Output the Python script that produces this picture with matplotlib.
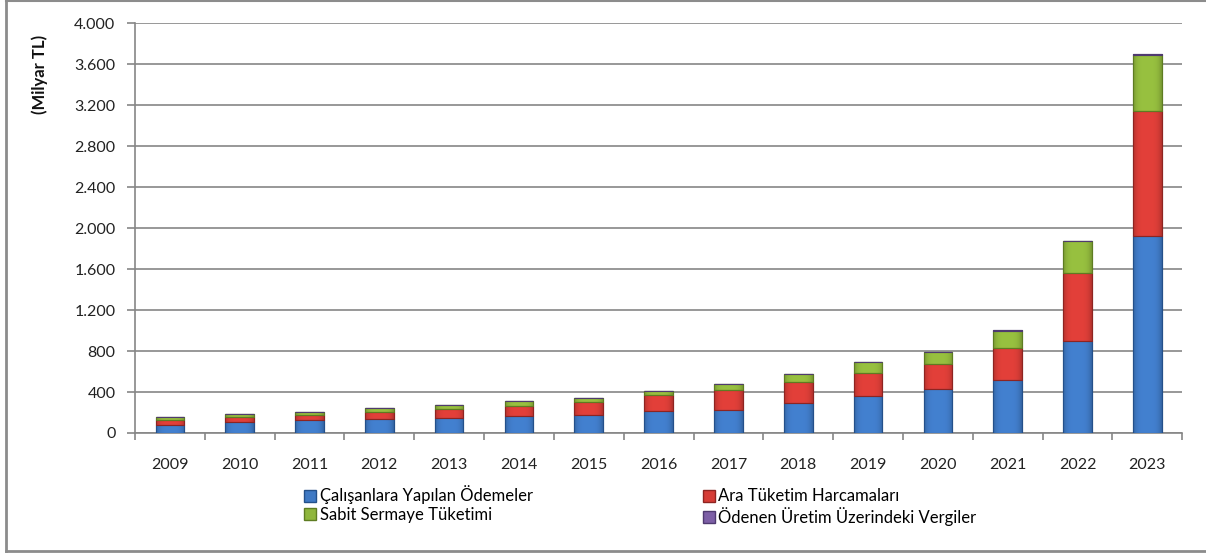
import numpy as np
import matplotlib.pyplot as plt
from matplotlib.lines import Line2D
from matplotlib.colors import to_rgb
from matplotlib.ticker import FuncFormatter

plt.rcParams['font.family'] = ['Lato', 'DejaVu Sans']

years = ['2009', '2010', '2011', '2012', '2013', '2014', '2015', '2016',
         '2017', '2018', '2019', '2020', '2021', '2022', '2023']
# Milyar TL
calisan = [82, 104, 124, 138, 148, 163, 180, 211, 228, 297, 363, 430, 517, 898, 1922]
ara_tuketim = [49, 53, 56, 68, 88, 99, 121, 156, 189, 198, 225, 240, 312, 663, 1222]
sabit_sermaye = [22, 30, 26, 36, 35, 46, 43, 42, 59, 83, 105, 116, 169, 312, 545]
vergiler = [1, 1, 1, 1, 1, 1, 1, 1, 1, 2, 2, 2, 3, 5, 10]

series = [("Çalışanlara Yapılan Ödemeler", calisan, "#3F79C4", "#24508A"),
          ("Ara Tüketim Harcamaları", ara_tuketim, "#D63C36", "#8E2421"),
          ("Sabit Sermaye Tüketimi", sabit_sermaye, "#8FB63C", "#5E7C22"),
          ("Ödenen Üretim Üzerindeki Vergiler", vergiler, "#7D5FA6", "#4F3A70")]


def shade(col):
    # darker at the sides, a bit lighter in the middle (Excel-like bar look)
    c = np.array(to_rgb(col))
    t = np.linspace(-1, 1, 40)
    f = 1.06 - 0.22 * t ** 4
    img = np.clip(c[None, :] * f[:, None], 0, 1)
    return img[None, :, :]


fig = plt.figure(figsize=(12.06, 5.53), dpi=100)
ax = fig.add_axes([0.1119, 0.217, 0.8684, 0.741])

x = np.arange(len(years))
bottom = np.zeros(len(years))
handles = []
for name, vals, col, edge in series:
    vals = np.array(vals, dtype=float)
    bars = ax.bar(x, vals, 0.41, bottom=bottom, color=col, edgecolor=edge,
                  linewidth=0.8, zorder=3)
    img = shade(col)
    for b in bars:
        x0, y0 = b.get_x(), b.get_y()
        im = ax.imshow(img, extent=[x0, x0 + b.get_width(), y0, y0 + b.get_height()],
                       aspect='auto', zorder=3.2, interpolation='bilinear')
        im.set_clip_path(b)
    ax.bar(x, vals, 0.41, bottom=bottom, color='none', edgecolor=edge,
           linewidth=0.8, zorder=3.5)
    bottom += vals
    handles.append(Line2D([], [], marker='s', linestyle='none', markersize=8,
                          markerfacecolor=col, markeredgecolor=edge, label=name))

ax.set_xlim(-0.5, len(years) - 0.5)
ax.set_ylim(0, 4000)
ax.set_aspect('auto')
ax.set_yticks(np.arange(0, 4001, 400))
ax.yaxis.set_major_formatter(FuncFormatter(lambda v, p: f"{int(v):,}".replace(",", ".")))
ax.set_xticks(x)
ax.set_xticklabels(years)
ax.set_xticks(np.arange(-0.5, len(years)), minor=True)
ax.tick_params(axis='x', which='major', length=0, pad=18, labelsize=11.5, colors='#222222')
ax.tick_params(axis='x', which='minor', length=5, color='#868686', width=1.2)
ax.tick_params(axis='y', length=6, color='#868686', width=1.2, pad=8,
               labelsize=11.5, labelcolor='#222222')
ax.grid(axis='y', color='#868686', linewidth=1.2, zorder=0)
for s in ['top', 'right']:
    ax.spines[s].set_visible(False)
for s in ['left', 'bottom']:
    ax.spines[s].set_color('#868686')
    ax.spines[s].set_linewidth(1.2)

fig.text(0.033, 0.865, "(Milyar TL)", rotation=90, fontsize=12,
         fontweight='bold', ha='center', va='center', color='#111111')

# row-wise order for a 2-column legend
order = [0, 2, 1, 3]
ax.legend(handles=[handles[i] for i in order], ncol=2, loc='upper left',
          bbox_to_anchor=(0.245, 0.134), bbox_transform=fig.transFigure,
          frameon=False, fontsize=12, handletextpad=0.05, handlelength=1.0,
          columnspacing=10.1, labelspacing=0.15, borderaxespad=0)

# outer frame
fig.add_artist(Line2D([0.005, 0.005], [0.003, 1.0], transform=fig.transFigure,
                      color='#8c8c8c', linewidth=2))
fig.add_artist(Line2D([0.005, 1.0], [0.003, 0.003], transform=fig.transFigure,
                      color='#8c8c8c', linewidth=2))
fig.add_artist(Line2D([0.005, 1.0], [0.999, 0.999], transform=fig.transFigure,
                      color='#8c8c8c', linewidth=1.5))

fig.savefig("out.png", dpi=100, facecolor='white')
